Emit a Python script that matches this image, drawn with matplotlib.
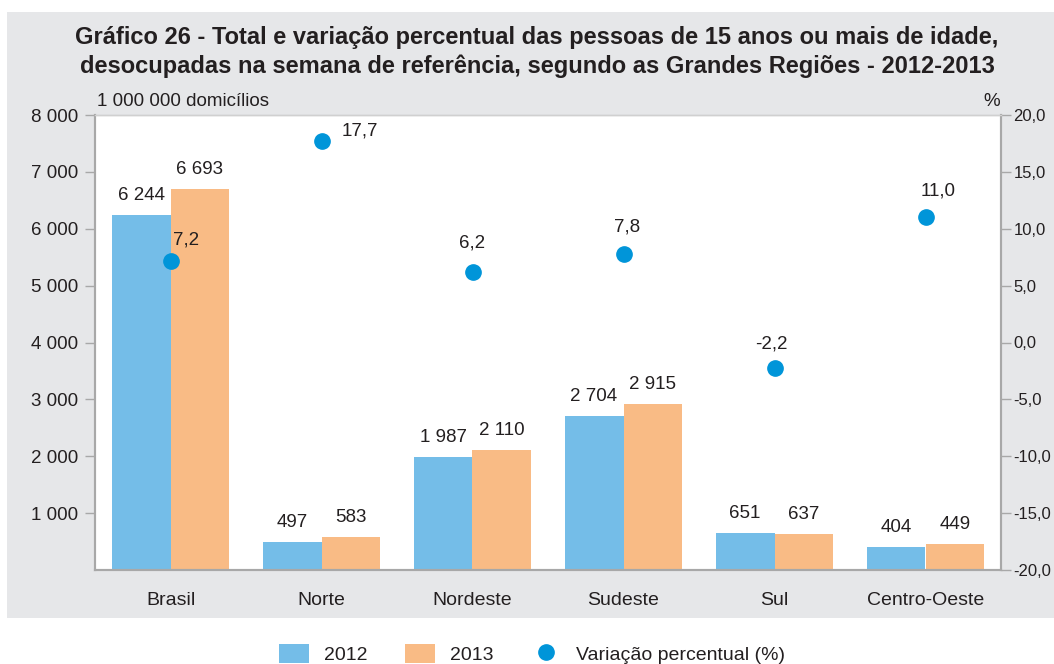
import numpy as np
import matplotlib.pyplot as plt
from matplotlib.patches import Rectangle, Patch
from matplotlib.lines import Line2D

plt.rcParams['font.family'] = ['Liberation Sans', 'DejaVu Sans']

# Dados
regioes = ['Brasil', 'Norte', 'Nordeste', 'Sudeste', 'Sul', 'Centro-Oeste']
total_2012 = [6244, 497, 1987, 2704, 651, 404]
total_2013 = [6693, 583, 2110, 2915, 637, 449]
variacao = [7.2, 17.7, 6.2, 7.8, -2.2, 11.0]

cor_2012 = '#74bde8'
cor_2013 = '#f9bb85'
cor_ponto = '#0095d9'
cor_fundo = '#e6e7e9'
cor_eixo = '#a8a8a8'
cor_texto = '#231f20'

def fmt_milhar(v):
    return f'{v:,.0f}'.replace(',', ' ')

def fmt_pct(v):
    return f'{v:.1f}'.replace('.', ',')

fig = plt.figure(figsize=(10.54, 6.64), dpi=100)
# fundo cinza atrás do gráfico
fig.patches.append(Rectangle((7 / 1054, 46 / 664), 1 - 7 / 1054, (618 - 12) / 664,
                             transform=fig.transFigure, facecolor=cor_fundo,
                             edgecolor='none', zorder=-10))

ax = fig.add_axes([95 / 1054, 94 / 664, 906 / 1054, 455 / 664])
ax.set_facecolor('white')
ax2 = ax.twinx()

# Barras
x = np.arange(len(regioes))
w = 0.39
b1 = ax.bar(x - w / 2, total_2012, w, color=cor_2012, zorder=2)
b2 = ax.bar(x + w / 2, total_2013, w, color=cor_2013, zorder=2)

for barras, vals in [(b1, total_2012), (b2, total_2013)]:
    for barra, v in zip(barras, vals):
        ax.annotate(fmt_milhar(v), (barra.get_x() + barra.get_width() / 2, v),
                    xytext=(0, 11), textcoords='offset pixels',
                    ha='center', va='bottom', fontsize=13.5, color=cor_texto)

ax.set_xlim(-0.5, len(regioes) - 0.5)
ax.set_ylim(0, 8000)
ax.set_yticks(range(1000, 8001, 1000))
ax.set_yticklabels([fmt_milhar(v) for v in range(1000, 8001, 1000)])
ax.set_xticks(x)
ax.set_xticklabels(regioes)
ax.tick_params(axis='x', length=0, pad=16, labelsize=14, colors=cor_texto)
ax.tick_params(axis='y', length=7, width=1, color=cor_eixo, labelsize=13.5,
               labelcolor=cor_texto, pad=5)

# Variação percentual (eixo da direita)
ax2.plot(x, variacao, 'o', color=cor_ponto, markersize=11, zorder=3)
offsets = [(16, 21), (38, 10), (0, 29), (4, 27), (-3, 24), (13, 26)]
for xi, v, off in zip(x, variacao, offsets):
    ax2.annotate(fmt_pct(v), (xi, v), xytext=off, textcoords='offset pixels',
                 ha='center', va='center', fontsize=13.5, color=cor_texto)
ax2.set_ylim(-20, 20)
ax2.set_yticks(np.arange(-20, 20.1, 5))
ax2.set_yticklabels([fmt_pct(v) for v in np.arange(-20, 20.1, 5)])
ax2.tick_params(axis='y', length=7, width=1, color=cor_eixo, labelsize=12,
                labelcolor=cor_texto, pad=2)

for a in (ax, ax2):
    for lado in ['left', 'right', 'bottom']:
        a.spines[lado].set_color(cor_eixo)
        a.spines[lado].set_linewidth(1.5)
    a.spines['top'].set_color('#d0d0d0')
    a.spines['top'].set_linewidth(1)

# Unidades
fig.text(97 / 1054, 1 - 101 / 664, '1 000 000 domicílios', fontsize=13.5,
         va='center', ha='left', color=cor_texto)
fig.text(992 / 1054, 1 - 101 / 664, '%', fontsize=13.5, va='center', ha='center',
         color=cor_texto)

# Título
fig.text(537 / 1054, 1 - 52 / 664,
         'Gráfico 26 - Total e variação percentual das pessoas de 15 anos ou mais de idade,\n'
         'desocupadas na semana de referência, segundo as Grandes Regiões - 2012-2013',
         ha='center', va='center', fontsize=17, fontweight='bold', color=cor_texto,
         linespacing=1.25)

# Legenda
handles = [Patch(facecolor=cor_2012, label='2012'),
           Patch(facecolor=cor_2013, label='2013'),
           Line2D([], [], marker='o', linestyle='none', color=cor_ponto,
                  markersize=11, label='Variação percentual (%)')]
fig.legend(handles=handles, loc='center', bbox_to_anchor=(532 / 1054, 1 - 654 / 664),
           ncol=3, frameon=False, fontsize=14, handlelength=1.55, handleheight=1.1,
           columnspacing=1.9, handletextpad=0.8, labelcolor=cor_texto)

fig.savefig('out.png', dpi=100)
